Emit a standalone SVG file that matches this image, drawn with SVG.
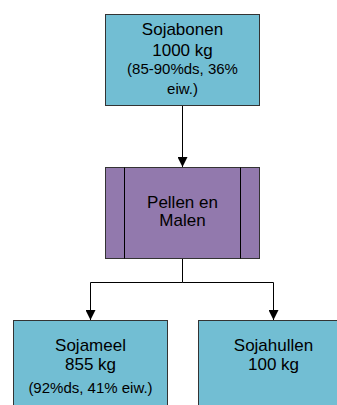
<svg xmlns="http://www.w3.org/2000/svg" width="337" height="405" viewBox="0 0 337 405">
<style>
.box{fill:#72BED3;stroke:#333;stroke-width:1}
.proc{fill:#9279AD;stroke:#333;stroke-width:1}
.t{font-family:"Liberation Sans",Arial,sans-serif;font-size:17px;fill:#000;text-anchor:middle}
.s{font-family:"Liberation Sans",Arial,sans-serif;font-size:15px;fill:#000;text-anchor:middle}
.c{fill:none;stroke:#000;stroke-width:1}
</style>
<defs>
<marker id="ah" markerWidth="10" markerHeight="10" refX="10" refY="5" orient="auto" markerUnits="userSpaceOnUse">
<path d="M0,0 L10,5 L0,10 Z" fill="#000"/>
</marker>
</defs>
<g id="connectors">
<path class="c" d="M182.5,105 V167" marker-end="url(#ah)"/>
<path class="c" d="M182.5,259 V282.5 H90.5 V320" marker-end="url(#ah)"/>
<path class="c" d="M182.5,282.5 H273.5 V320" marker-end="url(#ah)"/>
</g>
<g id="sojabonen">
<rect class="box" x="105.5" y="14.5" width="154" height="91"/>
<text class="t" x="182.5" y="35">Sojabonen</text>
<text class="t" x="182.5" y="56">1000 kg</text>
<text class="s" x="182.5" y="74">(85-90%ds, 36%</text>
<text class="s" x="182.5" y="94">eiw.)</text>
</g>
<g id="pellen">
<rect class="proc" x="105.5" y="167.5" width="154" height="91"/>
<line class="c" stroke="#333" x1="124.5" y1="167.5" x2="124.5" y2="258.5"/>
<line class="c" stroke="#333" x1="240.5" y1="167.5" x2="240.5" y2="258.5"/>
<text class="t" x="182.5" y="208">Pellen en</text>
<text class="t" x="182.5" y="226">Malen</text>
</g>
<g id="sojameel">
<rect class="box" x="13.5" y="320.5" width="154" height="91"/>
<text class="t" x="90.5" y="351">Sojameel</text>
<text class="t" x="90.5" y="370">855 kg</text>
<text class="s" x="90.5" y="393">(92%ds, 41% eiw.)</text>
</g>
<g id="sojahullen">
<rect class="box" x="198.5" y="320.5" width="154" height="91"/>
<text class="t" x="273.5" y="351">Sojahullen</text>
<text class="t" x="273.5" y="370">100 kg</text>
</g>
</svg>
